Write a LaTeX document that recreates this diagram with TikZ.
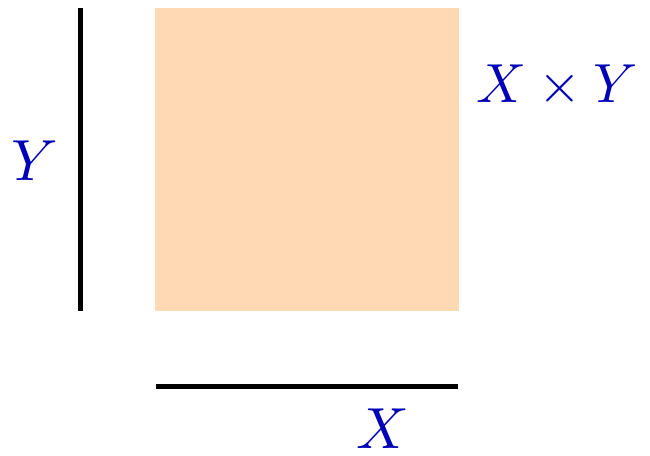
\documentclass[tikz,border=0pt]{standalone}
\definecolor{peach}{RGB}{254,217,179}
\definecolor{lblue}{RGB}{0,0,185}
\begin{document}
\begin{tikzpicture}[x=1pt,y=-1pt,
  lbl/.style={text=lblue,scale=5.8,anchor=base,inner sep=0pt},
  seg/.style={line width=5pt,black}]
\useasboundingbox (0,0) rectangle (650,455);
\fill[peach] (155,8) rectangle (459,311);
\coordinate (v1) at (80,8);
\coordinate (v2) at (80,311);
\coordinate (h1) at (156,386);
\coordinate (h2) at (458,386);
\draw[seg] (v1) -- (v2);
\draw[seg] (h1) -- (h2);
\node[lbl] (ylab) at (35,180) {$Y$};
\node[lbl] (xlab) at (383,448) {$X$};
\node[lbl,scale=0.95] (prod) at (557,102) {$X\times Y$};
\end{tikzpicture}
\end{document}
